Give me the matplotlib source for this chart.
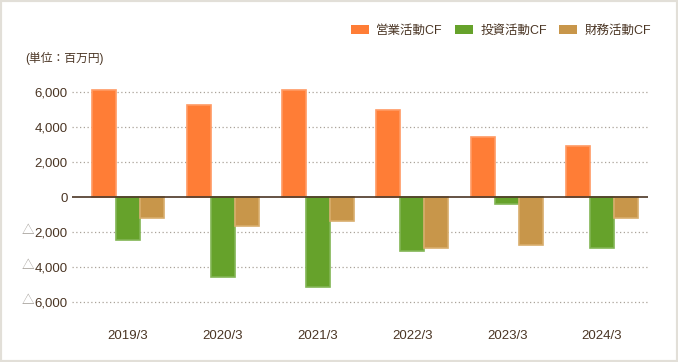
import numpy as np
import matplotlib
matplotlib.use('Agg')
import matplotlib.pyplot as plt
from matplotlib.patches import Rectangle, Patch

plt.rcParams['font.family'] = ['Liberation Sans', 'Noto Sans CJK JP']

# データ（百万円）
years = ['2019/3', '2020/3', '2021/3', '2022/3', '2023/3', '2024/3']
eigyo = [6110, 5270, 6110, 4990, 3430, 2910]
toshi = [-2420, -4540, -5110, -3050, -370, -2880]
zaimu = [-1170, -1620, -1340, -2880, -2710, -1170]
series_names = ['営業活動CF', '投資活動CF', '財務活動CF']
yticks = [-6000, -4000, -2000, 0, 2000, 4000, 6000]

colors = ['#ff7d36', '#66a22b', '#c8964a']
edges = ['#ff9a63', '#82b554', '#d8ad6c']
brown = '#4a3524'

fig = plt.figure(figsize=(6.78, 3.62), dpi=100)
ax = fig.add_axes([72 / 678, 0.1409, 576 / 678, 0.6285])

x = np.arange(len(years))
w = 0.253
for k, vals in enumerate([eigyo, toshi, zaimu]):
    ax.bar(x + (k - 1) * w, vals, width=w, color=colors[k],
           edgecolor=edges[k], linewidth=1.2, zorder=3)

ax.set_xlim(-0.591, 5.485)
ax.set_ylim(-6500, 6500)

for t in yticks:
    if t != 0:
        ax.axhline(t, color='#aaa399', linestyle=(0, (1, 2)), linewidth=0.9, zorder=1)
ax.axhline(0, color=brown, linewidth=1.2, zorder=4)

ax.set_yticks(yticks)
ax.set_yticklabels(['{:,}'.format(abs(t)) for t in yticks])
for t in yticks:
    if t < 0:
        ax.annotate('△', xy=(0, t), xycoords=('axes fraction', 'data'),
                    xytext=(-38, 1.5), textcoords='offset pixels',
                    ha='right', va='center', fontsize=9,
                    family=['Noto Sans CJK JP'], color='#a09a94')
ax.set_xticks(x)
ax.set_xticklabels(years)
ax.tick_params(axis='both', length=0, labelsize=9.5, labelcolor=brown)
ax.tick_params(axis='y', pad=3)
ax.tick_params(axis='x', pad=14)
for s in ax.spines.values():
    s.set_visible(False)

handles = [Patch(facecolor=c) for c in colors]
fig.legend(handles, series_names, loc='center right',
           bbox_to_anchor=(651 / 678, 1 - 31 / 362), ncol=3, frameon=False,
           fontsize=9, handlelength=1.4, handleheight=0.7, handletextpad=0.6,
           columnspacing=1.0, labelcolor=brown, borderpad=0, borderaxespad=0)

fig.text(25 / 678, 1 - 58 / 362, '(単位：百万円)', fontsize=8.5, color=brown,
         ha='left', va='center')

fig.patches.append(Rectangle((0, 0), 1, 1, transform=fig.transFigure,
                             fill=False, edgecolor='#e2dfd8', linewidth=3))

fig.savefig('out.png', dpi=100)
